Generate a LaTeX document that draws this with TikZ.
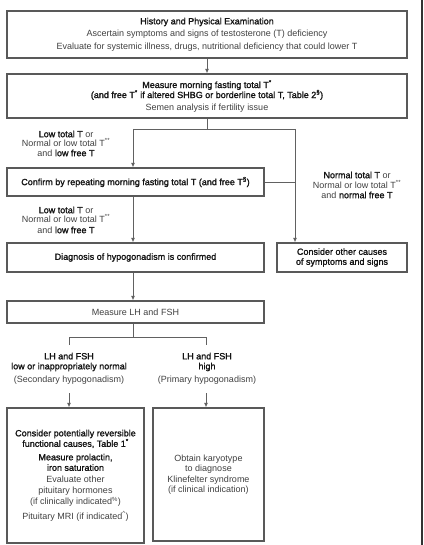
\documentclass[tikz,border=0pt]{standalone}
\usepackage{fontspec}
\setmainfont{Liberation Sans}[BoldFont={Liberation Sans}, BoldFeatures={FakeBold=1.6}]
\usetikzlibrary{arrows.meta}
\newcommand{\bt}[1]{{\bfseries\color{black!92}#1}}
\newcommand{\sups}[1]{\textsuperscript{#1}}
\begin{document}
\begin{tikzpicture}[x=1pt,y=-1pt,
  box/.style={draw=black!65, line width=1.25pt, inner sep=0pt, align=center,
    text=black!75, font=\fontsize{9}{10}\selectfont},
  lbl/.style={inner sep=0pt, align=center, text=black!75, font=\fontsize{9}{10}\selectfont},
  conn/.style={draw=black!62, line width=0.9pt},
  arr/.style={conn, -{Latex[length=4.5pt,width=4pt]}}]
\useasboundingbox (0,0) rectangle (423,545);
\fill[black!80] (420.5,0) rectangle (423,545);

% boxes
\node[box, minimum width=400pt, minimum height=47pt] (b1) at (207,34.5)
  {\bt{History and Physical Examination}\\[2.5pt]
   Ascertain symptoms and signs of testosterone (T) deficiency\\[2.5pt]
   Evaluate for systemic illness, drugs, nutritional deficiency that could lower T};
\node[box, minimum width=400pt, minimum height=44pt] (b2) at (207,96)
  {\bt{Measure morning fasting total T\sups{*}}\\[-1pt]
   \bt{(and free T\sups{*} if altered SHBG or borderline total T, Table 2\sups{§})}\\[2pt]
   Semen analysis if fertility issue};
\node[box, minimum width=257pt, minimum height=28pt] (b3) at (135.5,182)
  {\bt{Confirm by repeating morning fasting total T (and free T\sups{§})}};
\node[box, minimum width=257pt, minimum height=29pt] (b4) at (135.5,257.5)
  {\bt{Diagnosis of hypogonadism is confirmed}};
\node[box, minimum width=130pt, minimum height=29pt] (b5) at (342,257.5)
  {\bt{Consider other causes}\\\bt{of symptoms and signs}};
\node[box, minimum width=257pt, minimum height=22pt] (b6) at (135.5,312)
  {Measure LH and FSH};
\node[box, minimum width=137pt, minimum height=135pt] (b7) at (75.5,475.5)
  {\bt{Consider potentially reversible}\\[0.5pt]
   \bt{functional causes, Table 1\sups{*}}\\[3.5pt]
   \bt{Measure prolactin,}\\[0.5pt]
   \bt{iron saturation}\\[1.5pt]
   Evaluate other\\[1pt]
   pituitary hormones\\[1.5pt]
   (if clinically indicated\sups{\%})\\[4.5pt]
   Pituitary MRI (if indicated\sups{\textasciicircum})};
\node[box, minimum width=111pt, minimum height=133pt] (b8) at (208.5,474.5)
  {Obtain karyotype\\[0.5pt] to diagnose\\[0.5pt] Klinefelter syndrome\\[0.5pt] (if clinical indication)};

% labels
\node[lbl] (l1) at (66,143.5)
  {\bt{Low total T} or\\[-0.5pt] Normal or low total T\sups{**}\\[-0.5pt] and \bt{low free T}};
\node[lbl] (l2) at (66,220)
  {\bt{Low total T} or\\[-0.5pt] Normal or low total T\sups{**}\\[0.5pt] and \bt{low free T}};
\node[lbl] (l3) at (357,185)
  {\bt{Normal total T} or\\ Normal or low total T\sups{**}\\ and \bt{normal free T}};
\node[lbl] (l4) at (69,368.5)
  {\bt{LH and FSH}\\ \bt{low or inappropriately normal}\\[3pt] (Secondary hypogonadism)};
\node[lbl] (l5) at (207,368.5)
  {\bt{LH and FSH}\\ \bt{high}\\[3pt] (Primary hypogonadism)};

% junction coordinates
\coordinate (j1) at (207,129);
\coordinate (jL) at (133,129);
\coordinate (jR) at (295,129);
\coordinate (jm) at (295,182);
\coordinate (j2) at (133,337);
\coordinate (k1) at (69,337);
\coordinate (k2) at (206,337);
\coordinate (k1e) at (69,345);
\coordinate (k2e) at (206,345);
\coordinate (a1) at (69,393);
\coordinate (a2) at (206,393);

% connectors
\draw[arr] (b1.south) -- (b2.north);
\draw[conn] (b2.south) -- (j1);
\draw[conn] (jL) -- (jR);
\draw[arr] (jL) -- (jL |- b3.north);
\draw[arr] (jR) -- (jR |- b5.north);
\draw[conn] (b3.east) -- (jm);
\draw[arr] (b3.south -| jL) -- (b4.north -| jL);
\draw[arr] (b4.south -| jL) -- (b6.north -| jL);
\draw[conn] (b6.south -| j2) -- (j2);
\draw[conn] (k1e) -- (k1) -- (k2) -- (k2e);
\draw[arr] (a1) -- (a1 |- b7.north);
\draw[arr] (a2) -- (a2 |- b8.north);
\end{tikzpicture}
\end{document}
